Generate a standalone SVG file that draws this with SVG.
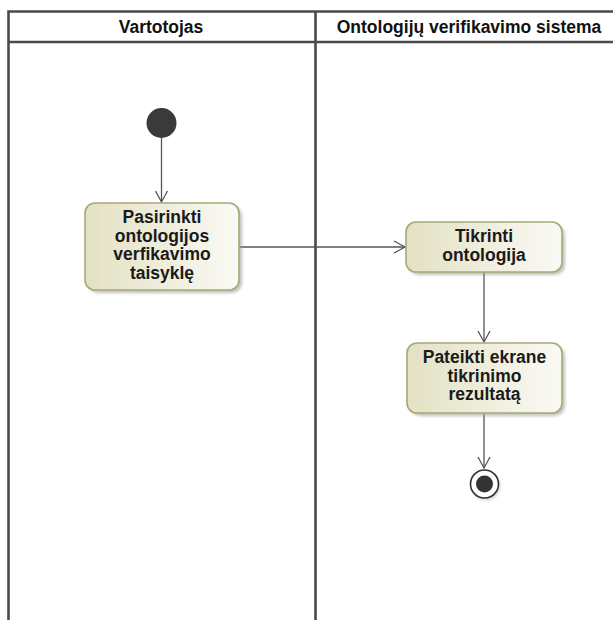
<svg xmlns="http://www.w3.org/2000/svg" width="613" height="620" viewBox="0 0 613 620">
  <style>
    .lane { fill: none; stroke: #4a4a4a; stroke-width: 2.6; }
    .lane-title { font-family: "Liberation Sans", Arial, sans-serif; font-size: 17.5px; font-weight: bold; fill: #111; text-anchor: middle; }
    .action { fill: url(#actFill); stroke: #a9a874; stroke-width: 1.6; }
    .shadow { fill: #9a9a9a; opacity: 0.6; filter: url(#soft); }
    .label { font-family: "Liberation Sans", Arial, sans-serif; font-size: 17.5px; font-weight: bold; fill: #1a1a1a; text-anchor: middle; }
    .flow { fill: none; stroke: #555; stroke-width: 1.3; marker-end: url(#openArrow); }
  </style>
  <defs>
    <linearGradient id="actFill" x1="0" y1="0" x2="1" y2="0">
      <stop offset="0" stop-color="#e3e1c3"/>
      <stop offset="1" stop-color="#fafaf5"/>
    </linearGradient>
    <filter id="soft" x="-10%" y="-10%" width="120%" height="120%">
      <feGaussianBlur stdDeviation="1.5"/>
    </filter>
    <marker id="openArrow" markerWidth="14" markerHeight="14" refX="12" refY="7" orient="auto" markerUnits="userSpaceOnUse">
      <path d="M1,1 L12,7 L1,13" fill="none" stroke="#555" stroke-width="1.3"/>
    </marker>
  </defs>

  <!-- swimlane frame -->
  <g id="lanes">
    <path class="lane" d="M8.5,620 V11.5 H640 M8.5,42 H640 M315.5,11.5 V620"/>
    <text class="lane-title" x="161" y="33">Vartotojas</text>
    <text class="lane-title" x="469" y="33">Ontologijų verifikavimo sistema</text>
  </g>

  <!-- control flows -->
  <g id="connectors">
    <line class="flow" x1="161.5" y1="138" x2="161.5" y2="202"/>
    <line class="flow" x1="239" y1="247" x2="405" y2="247"/>
    <line class="flow" x1="484" y1="272" x2="484" y2="342"/>
    <line class="flow" x1="484" y1="413" x2="484" y2="468"/>
  </g>

  <g id="initial">
    <circle cx="161.5" cy="123" r="15" fill="#3a3a3a"/>
  </g>

  <g id="pasirinkti">
    <rect class="shadow" x="88" y="206" width="154" height="87" rx="10"/>
    <rect class="action" x="85" y="203" width="154" height="87" rx="10"/>
    <text class="label" x="162" y="223">Pasirinkti</text>
    <text class="label" x="162" y="241.5">ontologijos</text>
    <text class="label" x="162" y="260">verfikavimo</text>
    <text class="label" x="162" y="278.5">taisyklę</text>
  </g>

  <g id="tikrinti">
    <rect class="shadow" x="409" y="225" width="156" height="50" rx="10"/>
    <rect class="action" x="406" y="222" width="156" height="50" rx="10"/>
    <text class="label" x="484" y="242">Tikrinti</text>
    <text class="label" x="484" y="260.5">ontologija</text>
  </g>

  <g id="pateikti">
    <rect class="shadow" x="410" y="346" width="155" height="70" rx="10"/>
    <rect class="action" x="407" y="343" width="155" height="70" rx="10"/>
    <text class="label" x="484.5" y="363">Pateikti ekrane</text>
    <text class="label" x="484.5" y="381.5">tikrinimo</text>
    <text class="label" x="484.5" y="400">rezultatą</text>
  </g>

  <g id="final">
    <circle cx="486" cy="486" r="14" fill="#999" opacity="0.5" filter="url(#soft)"/>
    <circle cx="484.5" cy="484" r="14" fill="#fff" stroke="#333" stroke-width="1.6"/>
    <circle cx="484.5" cy="484" r="8.5" fill="#333"/>
  </g>
</svg>
